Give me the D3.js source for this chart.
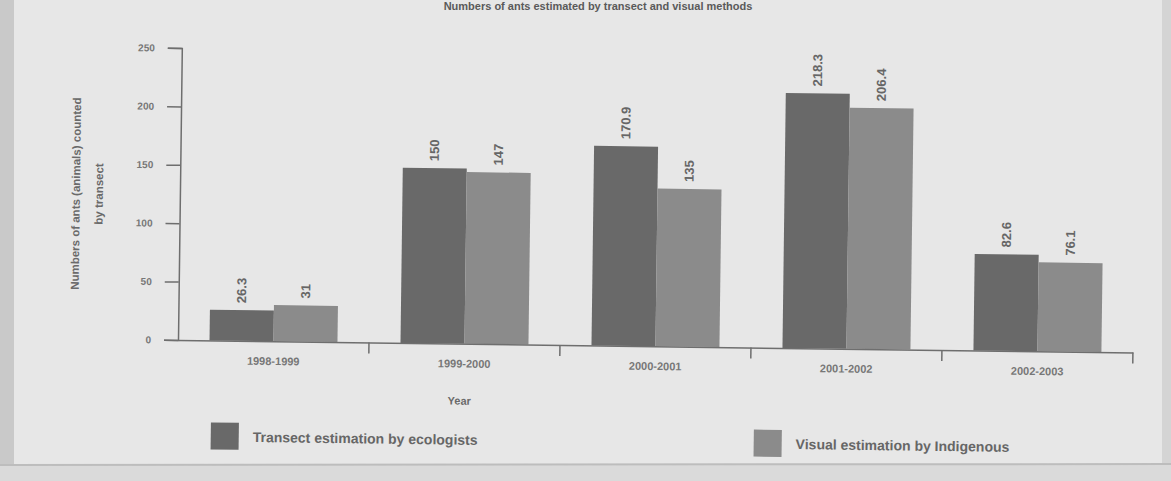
<!DOCTYPE html>
<html>
<head>
<meta charset="utf-8">
<script src="https://cdn.jsdelivr.net/npm/d3@7"></script>
<style>
  html, body { margin: 0; padding: 0; background: #e4e4e4; }
  svg { display: block; }
</style>
</head>
<body>
<div id="chart"></div>
<script>
/* Grouped bar chart: two estimation methods per season. */
var years = ["1998-1999", "1999-2000", "2000-2001", "2001-2002", "2002-2003"];
var seriesNames = ["Transect estimation by ecologists", "Visual estimation by Indigenous"];
var transect = [26.3, 150, 170.9, 218.3, 82.6];
var visual = [31, 147, 135, 206.4, 76.1];
var yTicks = [0, 50, 100, 150, 200, 250];
var seriesColors = ["#696969", "#8b8b8b"];

var W = 1171, H = 481;
var font = "'Liberation Sans', Arial, sans-serif";
var narrow = "'Liberation Sans Narrow', 'Liberation Sans', Arial, sans-serif";
var ink = "#6e6e6e";

var svg = d3.select("#chart").append("svg")
  .attr("width", W).attr("height", H);

/* Paper background, darker left edge and bottom strip. */
svg.append("rect").attr("width", W).attr("height", H).attr("fill", "#e7e7e7");
svg.append("rect").attr("width", 14).attr("height", H).attr("fill", "#c9c9c9");
svg.append("rect").attr("x", 1162).attr("width", 9).attr("height", H).attr("fill", "#d4d4d4");
svg.append("rect").attr("y", 465).attr("width", W).attr("height", 16).attr("fill", "#dadada");
svg.append("line").attr("x1", 0).attr("x2", W).attr("y1", 465).attr("y2", 464)
  .attr("stroke", "#bdbdbd").attr("stroke-width", 2);

/* Title at the top edge of the photo. */
svg.append("text")
  .attr("x", 598).attr("y", 10)
  .attr("text-anchor", "middle")
  .attr("fill", "#5a5a5a").attr("font-family", font)
  .attr("font-size", 11).attr("font-weight", "bold")
  .text("Numbers of ants estimated by transect and visual methods");

/* The photographed page is slightly tilted; rotate the plot around the axis origin. */
var g = svg.append("g").attr("transform", "rotate(0.75,178,340)");

var x0 = d3.scaleBand().domain(years).range([178, 1133]).paddingInner(0.33).paddingOuter(0.165);
var x1 = d3.scaleBand().domain([0, 1]).range([0, x0.bandwidth()]);
var y = d3.scaleLinear().domain([0, 250]).range([340, 48]);

/* Y axis */
var yAxis = g.append("g").attr("transform", "translate(178,0)")
  .call(d3.axisLeft(y).tickValues(yTicks).tickSize(14).tickPadding(13));
yAxis.select(".domain").attr("stroke", ink).attr("stroke-width", 1.5);
yAxis.selectAll(".tick line").attr("stroke", ink).attr("stroke-width", 1.5);
yAxis.selectAll(".tick text").attr("fill", "#777").attr("font-family", font)
  .attr("font-size", 10).attr("font-weight", "bold");

/* Bars */
var rows = years.map(function (yr, i) { return { year: yr, vals: [transect[i], visual[i]] }; });
var grp = g.selectAll(".grp").data(rows).enter().append("g")
  .attr("transform", function (d) { return "translate(" + x0(d.year) + ",0)"; });
grp.selectAll("rect").data(function (d) { return d.vals; }).enter().append("rect")
  .attr("x", function (d, i) { return x1(i); })
  .attr("y", function (d) { return y(d); })
  .attr("width", x1.bandwidth())
  .attr("height", function (d) { return y(0) - y(d); })
  .attr("fill", function (d, i) { return seriesColors[i]; });

/* Value labels, rotated above each bar */
grp.selectAll("text.val").data(function (d) { return d.vals; }).enter().append("text")
  .attr("class", "val")
  .attr("transform", function (d, i) {
    return "translate(" + (x1(i) + x1.bandwidth() / 2 + 4) + "," + (y(d) - 7) + ") rotate(-90)";
  })
  .attr("fill", "#666").attr("font-family", narrow)
  .attr("font-size", 13).attr("font-weight", "bold")
  .text(function (d) { return d; });

/* X axis */
var xAxis = g.append("g").attr("transform", "translate(0,340)")
  .call(d3.axisBottom(x0).tickSize(0).tickPadding(16));
xAxis.select(".domain").attr("stroke", ink).attr("stroke-width", 1.5);
xAxis.selectAll(".tick text").attr("fill", "#777").attr("font-family", font)
  .attr("font-size", 11).attr("font-weight", "bold");
var bounds = d3.range(years.length + 1).map(function (i) { return 178 + i * x0.step(); });
g.selectAll(".xb").data(bounds.slice(1)).enter().append("line")
  .attr("x1", function (d) { return d; }).attr("x2", function (d) { return d; })
  .attr("y1", 340).attr("y2", 351)
  .attr("stroke", ink).attr("stroke-width", 1.5);

/* Axis titles */
g.append("text").attr("x", 460).attr("y", 401).attr("text-anchor", "middle")
  .attr("fill", "#6a6a6a").attr("font-family", font).attr("font-size", 11)
  .attr("font-weight", "bold")
  .text("Year");
var yl = g.append("text").attr("transform", "translate(78,195) rotate(-90)")
  .attr("text-anchor", "middle").attr("fill", "#6a6a6a")
  .attr("font-family", font).attr("font-size", 11.5).attr("font-weight", "bold");
yl.append("tspan").attr("x", 0).attr("dy", 0).text("Numbers of ants (animals) counted");
yl.append("tspan").attr("x", 0).attr("dy", 23).text("by transect");

/* Legend */
var legX = [212, 755];
var leg = g.selectAll(".leg").data(seriesNames).enter().append("g")
  .attr("transform", function (d, i) { return "translate(" + legX[i] + ",422)"; });
leg.append("rect").attr("width", 28).attr("height", 27)
  .attr("fill", function (d, i) { return seriesColors[i]; });
leg.append("text").attr("x", 42).attr("y", 19)
  .attr("fill", "#666").attr("font-family", font)
  .attr("font-size", 14).attr("font-weight", "bold")
  .text(function (d) { return d; });
</script>
</body>
</html>
